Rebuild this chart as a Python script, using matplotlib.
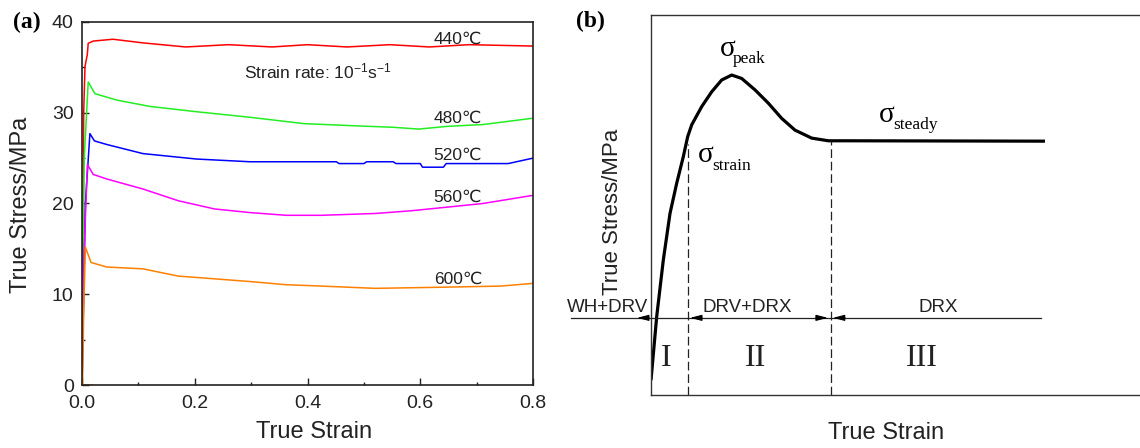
import numpy as np
import matplotlib
matplotlib.use("Agg")
from matplotlib import pyplot as plt

plt.rcParams['font.family'] = ['Liberation Sans', 'DejaVu Sans']
plt.rcParams['mathtext.fontset'] = 'custom'
plt.rcParams['mathtext.rm'] = 'Liberation Sans'
plt.rcParams['mathtext.it'] = 'Liberation Sans'

# ---- panel (a): flow curves at strain rate 0.1 s^-1
temps = ["440℃", "480℃", "520℃", "560℃", "600℃"]
colors = ["#ff0000", "#22ee22", "#0000ff", "#ff00ff", "#ff8000"]

strain_440 = [0.0, 0.003, 0.0053, 0.0094, 0.011, 0.02, 0.055, 0.108, 0.184, 0.26, 0.337, 0.40, 0.47, 0.546, 0.616, 0.686, 0.8]
stress_440 = [0.0, 30.0, 35.1, 36.4, 37.65, 37.9, 38.1, 37.7, 37.25, 37.5, 37.25, 37.5, 37.25, 37.5, 37.25, 37.5, 37.35]

strain_480 = [0.0, 0.004, 0.011, 0.023, 0.0615, 0.12, 0.205, 0.298, 0.394, 0.489, 0.552, 0.597, 0.648, 0.711, 0.8]
stress_480 = [0.0, 25.0, 33.4, 32.1, 31.4, 30.7, 30.1, 29.5, 28.8, 28.55, 28.4, 28.2, 28.5, 28.7, 29.4]

strain_520 = [0.0, 0.006, 0.014, 0.022, 0.044, 0.108, 0.203, 0.298, 0.451, 0.456, 0.50, 0.505, 0.552, 0.557, 0.60, 0.604, 0.641, 0.646, 0.756, 0.8]
stress_520 = [0.0, 20.0, 27.7, 26.9, 26.5, 25.5, 24.9, 24.6, 24.6, 24.4, 24.4, 24.6, 24.6, 24.4, 24.4, 24.0, 24.0, 24.4, 24.4, 25.0]

strain_560 = [0.0, 0.004, 0.0095, 0.02, 0.044, 0.108, 0.171, 0.235, 0.298, 0.362, 0.425, 0.52, 0.584, 0.648, 0.711, 0.8]
stress_560 = [0.0, 15.0, 24.3, 23.2, 22.7, 21.6, 20.3, 19.4, 19.0, 18.7, 18.7, 18.9, 19.2, 19.6, 20.0, 20.9]

strain_600 = [0.019, 0.001, 0.003, 0.006, 0.016, 0.044, 0.108, 0.171, 0.235, 0.298, 0.362, 0.425, 0.52, 0.616, 0.743, 0.8]
stress_600 = [0.0, 0.0, 8.0, 15.2, 13.5, 13.0, 12.8, 12.0, 11.7, 11.4, 11.05, 10.9, 10.65, 10.75, 10.9, 11.2]

curves = [(strain_440, stress_440), (strain_480, stress_480), (strain_520, stress_520),
          (strain_560, stress_560), (strain_600, stress_600)]
label_x = 0.667
label_y = [38.1, 29.4, 25.3, 20.7, 11.7]

# ---- panel (b): schematic flow curve
sch_x = [0.0, 0.0116, 0.0251, 0.0388, 0.0524, 0.0659, 0.0749, 0.0831, 0.1035, 0.1239, 0.1443,
         0.1647, 0.1851, 0.2122, 0.2394, 0.2667, 0.2939, 0.328, 0.3618, 0.396, 0.804]
sch_y = [0.039, 0.206, 0.355, 0.478, 0.557, 0.627, 0.680, 0.711, 0.759, 0.798, 0.829,
         0.842, 0.833, 0.803, 0.768, 0.728, 0.697, 0.676, 0.669, 0.669, 0.668]
bounds_x = [0.0755, 0.367]
bounds_top = [0.66, 0.669]
stage_names = ["WH+DRV", "DRV+DRX", "DRX"]
stage_name_x = [-0.0878, 0.196, 0.586]
stage_nums = ["I", "II", "III"]
stage_num_x = [0.0316, 0.214, 0.553]

fig = plt.figure(figsize=(11.4, 4.48), dpi=100)
W, H = 1140.0, 448.0
ax1 = fig.add_axes([82 / W, (H - 385) / H, (533 - 82) / W, (385 - 22) / H])
ax2 = fig.add_axes([651 / W, (H - 395) / H, (1141 - 651) / W, (395 - 15) / H])

for (x, y), c in zip(curves, colors):
    ax1.plot(x, y, '-', color=c, lw=1.1)
for t, ly in zip(temps, label_y):
    ax1.text(label_x, ly, t, fontsize=12.5, ha='center', va='center', color='#222222')
ax1.text(0.419, 34.5, r'Strain rate: 10$^{-1}$s$^{-1}$', fontsize=12.5, ha='center', va='center', color='#222222')

ax1.set_xlim(0, 0.8)
ax1.set_ylim(0, 40)
ax1.set_xticks([0.0, 0.2, 0.4, 0.6, 0.8])
ax1.set_xticklabels(['0.0', '0.2', '0.4', '0.6', '0.8'])
ax1.set_xticks([0.1, 0.3, 0.5, 0.7], minor=True)
ax1.set_yticks([0, 10, 20, 30, 40])
ax1.set_yticks([5, 15, 25, 35], minor=True)
ax1.tick_params(which='both', direction='in', labelsize=14, width=1, colors='#222222')
ax1.tick_params(axis='x', which='both', pad=7)
ax1.tick_params(axis='y', which='both', pad=6)
ax1.tick_params(which='major', length=5)
ax1.tick_params(which='minor', length=2.5)
for s in ax1.spines.values():
    s.set_linewidth(1.2)
    s.set_color('#222222')

fig.text(21.5 / W, 1 - 205 / H, 'True Stress/MPa', rotation=90, fontsize=17, ha='center', va='center', color='#222222')
fig.text(314 / W, 1 - 432 / H, 'True Strain', fontsize=17, ha='center', va='center', color='#222222')
fig.text(27 / W, 1 - 22 / H, '(a)', fontsize=17, fontweight='bold', family='Liberation Serif', ha='center', va='center')

# panel b
ax2.plot(sch_x, sch_y, '-', color='black', lw=2.3, solid_joinstyle='round', solid_capstyle='butt')
for bx, bt in zip(bounds_x, bounds_top):
    ax2.plot([bx, bx], [0, bt], color='#222222', lw=0.9, dashes=(7, 3))
ax2.plot([-0.163, 0.796], [0.203, 0.203], color='#222222', lw=0.9, clip_on=False)
arrows = [(-0.0286, -0.004), (0.0796, 0.104), (0.361, 0.337), (0.371, 0.396)]
for tip, tail in arrows:
    ax2.annotate('', xy=(tip, 0.203), xytext=(tail, 0.203), annotation_clip=False,
                 arrowprops=dict(arrowstyle='-|>,head_length=0.7,head_width=0.18', color='black', lw=0.8, shrinkA=0, shrinkB=0))
for n, nx in zip(stage_names, stage_name_x):
    ax2.text(nx, 0.229, n, fontsize=13.5, ha='center', va='center', color='#222222', clip_on=False)
for n, nx in zip(stage_nums, stage_num_x):
    ax2.text(nx, 0.097, n, fontsize=23, family='Liberation Serif', ha='center', va='center', color='#222222')

serif = 'Liberation Serif'
ax2.text(0.141, 0.892, 'σ', fontsize=21, family=serif, ha='left', va='baseline')
ax2.text(0.167, 0.874, 'peak', fontsize=12.5, family=serif, ha='left', va='baseline')
ax2.text(0.465, 0.718, 'σ', fontsize=21, family=serif, ha='left', va='baseline')
ax2.text(0.494, 0.700, 'steady', fontsize=12.5, family=serif, ha='left', va='baseline')
ax2.text(0.096, 0.613, 'σ', fontsize=21, family=serif, ha='left', va='baseline')
ax2.text(0.124, 0.592, 'strain', fontsize=12.5, family=serif, ha='left', va='baseline')

ax2.set_xlim(0, 1.0)
ax2.set_ylim(0, 1.0)
ax2.set_xticks([])
ax2.set_yticks([])
ax2.spines['right'].set_visible(False)
for k in ['left', 'top', 'bottom']:
    ax2.spines[k].set_linewidth(1.0)
    ax2.spines[k].set_color('#333333')

fig.text(612 / W, 1 - 212 / H, 'True Stress/MPa', rotation=90, fontsize=16, ha='center', va='center', color='#222222')
fig.text(886 / W, 1 - 433 / H, 'True Strain', fontsize=17, ha='center', va='center', color='#222222')
fig.text(590 / W, 1 - 21 / H, '(b)', fontsize=17, fontweight='bold', family='Liberation Serif', ha='center', va='center')

fig.savefig('out.png', dpi=100)
